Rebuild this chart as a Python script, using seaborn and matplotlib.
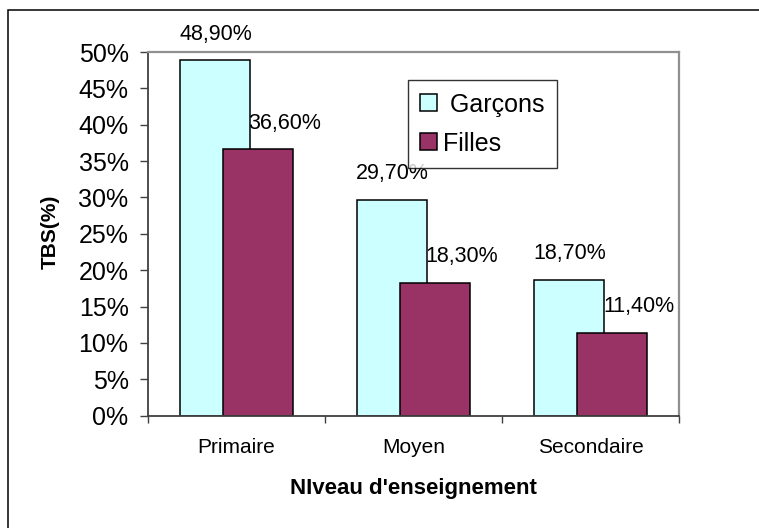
import matplotlib
matplotlib.use('Agg')
import matplotlib.pyplot as plt
import matplotlib.patches as mpatches
import pandas as pd
import seaborn as sns

# values (TBS in %)
niveaux = ['Primaire', 'Moyen', 'Secondaire']
garcons = [48.9, 29.7, 18.7]
filles = [36.6, 18.3, 11.4]
series = ['Garçons', 'Filles']
couleurs = ['#CCFFFF', '#993366']

df = pd.DataFrame({
    'niveau': niveaux * 2,
    'tbs': garcons + filles,
    'sexe': [series[0]] * len(niveaux) + [series[1]] * len(niveaux),
})

sns.set_style('white')
plt.rcParams['font.family'] = ['Liberation Sans', 'DejaVu Sans']
for key in ['text.color', 'axes.labelcolor', 'xtick.labelcolor', 'ytick.labelcolor']:
    plt.rcParams[key] = 'black'

fig = plt.figure(figsize=(7.59, 5.28), dpi=100)
ax = fig.add_axes([0.195, 0.2127, 0.6996, 0.6888])

sns.barplot(data=df, x='niveau', y='tbs', hue='sexe', hue_order=series,
            palette=couleurs, width=0.792, saturation=1, edgecolor='black',
            linewidth=1.1, legend=False, ax=ax)

# Excel-like overlap: pull the two series towards each other
shifts = [0.079, -0.079]
for cont, sh in zip(ax.containers, shifts):
    for bar in cont.patches:
        bar.set_x(bar.get_x() + sh)

# value labels, comma decimal
label_dx = [0, 19.5]
for cont, vals, dx in zip(ax.containers, [garcons, filles], label_dx):
    for bar, v in zip(cont.patches, vals):
        txt = f'{v:.2f}'.replace('.', ',') + '%'
        ax.annotate(txt, (bar.get_x() + bar.get_width() / 2, bar.get_height()),
                    xytext=(dx, 11), textcoords='offset points',
                    ha='center', va='bottom', fontsize=15.5, color='black')

ax.set_ylim(0, 50)
ax.set_xlim(-0.5, 2.5)
ax.set_yticks(range(0, 51, 5))
ax.set_yticklabels([f'{t}%' for t in range(0, 51, 5)])
ax.tick_params(axis='y', which='major', direction='out', length=6, width=1,
               color='#404040', labelsize=18, pad=8, left=True)
ax.set_xticks(range(len(niveaux)))
ax.set_xticklabels(niveaux)
ax.tick_params(axis='x', which='major', length=0, labelsize=15, pad=16)
ax.set_xticks([-0.5, 0.5, 1.5, 2.5], minor=True)
ax.tick_params(axis='x', which='minor', direction='out', length=5, width=1,
               color='#404040', bottom=True)

ax.set_xlabel("NIveau d'enseignement", fontsize=16, fontweight='bold')
ax.set_ylabel('TBS(%)', fontsize=15, fontweight='bold')
ax.xaxis.set_label_coords(0.499, -0.172)
ax.yaxis.set_label_coords(-0.166, 0.505)

for side in ['left', 'bottom']:
    ax.spines[side].set_color('#404040')
    ax.spines[side].set_linewidth(1.3)
for side in ['top', 'right']:
    ax.spines[side].set_color('#909090')
    ax.spines[side].set_linewidth(1.6)

handles = [cont.patches[0] for cont in ax.containers]
leg = ax.legend(handles, [' Garçons', 'Filles'], loc='upper left',
                bbox_to_anchor=(0.4896, 0.923), borderaxespad=0,
                fontsize=18, frameon=True, fancybox=False, edgecolor='black',
                handlelength=0.65, handleheight=0.65, handletextpad=0.25,
                labelspacing=0.6, borderpad=0.5)
leg.get_frame().set_linewidth(1.0)

# outer chart frame (cut at the right and bottom edges)
fig.patches.append(mpatches.Rectangle((8 / 759, -0.1), 1.2, 1 - 10 / 528 + 0.1,
                                      transform=fig.transFigure, fill=False,
                                      edgecolor='black', linewidth=1.1))

fig.savefig('out.png', dpi=100)
